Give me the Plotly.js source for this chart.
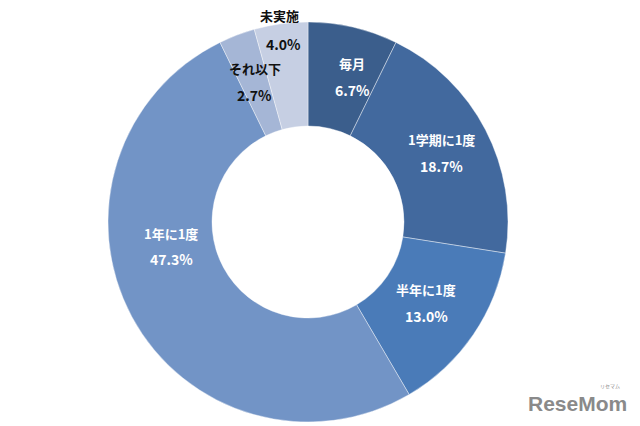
<!DOCTYPE html>
<html><head><meta charset="utf-8">
<script src="https://cdn.plot.ly/plotly-3.0.1.min.js"></script>
<style>html,body{margin:0;padding:0;background:#fff}#chart{width:640px;height:426px}</style>
</head><body><div id="chart"></div>
<script>
const categories = ["毎月", "1学期に1度", "半年に1度", "1年に1度", "それ以下", "未実施"];
const values = [6.7, 18.7, 13.0, 47.3, 2.7, 4.0];
const valueLabels = ["6.7%", "18.7%", "13.0%", "47.3%", "2.7%", "4.0%"];

const colors = ["#3B5E8C", "#42699E", "#4A7BB8", "#7294C6", "#A5B6D6", "#C6CFE3"];
const textColors = ["#fff", "#fff", "#fff", "#fff", "#111", "#111"];

const W = 640, H = 426, M = {l: 0, r: 0, t: 22, b: 4};
const cx = 308, cy = 222, R = 200;
const pw = W - M.l - M.r, ph = H - M.t - M.b;

// label placement (layout only): angle/radius tweaks per slice index
const labelTweak = {0: {angle: 17, r: 152}, 2: {r: 143}, 3: {angle: 260, r: 139}, 5: {nameR: 208, valR: 180}};

const total = values.reduce((a, b) => a + b, 0);
const annotations = [];
const toPaper = (px, py) => ({x: (px - M.l) / pw, y: 1 - (py - M.t) / ph});
let cum = 0;
values.forEach((v, i) => {
  let mid = (cum + v / 2) / total * 360;
  cum += v;
  const t = labelTweak[i] || {};
  const ang = (t.angle !== undefined ? t.angle : mid) * Math.PI / 180;
  let namePt, valPt;
  if (t.nameR) {
    namePt = [cx + t.nameR * Math.sin(ang), cy - t.nameR * Math.cos(ang)];
    valPt = [cx + t.valR * Math.sin(ang), cy - t.valR * Math.cos(ang)];
  } else {
    const r = t.r || 150;
    const px = cx + r * Math.sin(ang), py = cy - r * Math.cos(ang);
    namePt = [px, py - 13];
    valPt = [px, py + 13];
  }
  const f = {family: "'Noto Sans CJK JP', 'Noto Sans', sans-serif", size: 13, color: (t.nameR ? "#111" : textColors[i])};
  const a = toPaper(namePt[0], namePt[1]);
  annotations.push({x: a.x, y: a.y, xref: "paper", yref: "paper", text: "<b>" + categories[i] + "</b>", showarrow: false, font: f, xanchor: "center", yanchor: "middle"});
  const b = toPaper(valPt[0], valPt[1]);
  annotations.push({x: b.x, y: b.y, xref: "paper", yref: "paper", text: "<b>" + valueLabels[i] + "</b>", showarrow: false, font: Object.assign({}, f, {color: textColors[i], size: 14}), xanchor: "center", yanchor: "middle"});
});

// watermark
const wm = toPaper(577, 403);
annotations.push({x: wm.x, y: wm.y, xref: "paper", yref: "paper", text: "<b>ReseMom</b>", showarrow: false,
  font: {family: "'Liberation Sans', Arial, sans-serif", size: 21, color: "#8a8a8a"}, xanchor: "center", yanchor: "middle"});
const wm2 = toPaper(610, 386);
annotations.push({x: wm2.x, y: wm2.y, xref: "paper", yref: "paper", text: "リセマム", showarrow: false,
  font: {family: "'Noto Sans CJK JP', sans-serif", size: 5, color: "#8a8a8a"}, xanchor: "center", yanchor: "middle"});

const trace = {
  type: "pie",
  labels: categories,
  values: values,
  hole: 0.48,
  sort: false,
  direction: "clockwise",
  rotation: 0,
  textinfo: "none",
  hoverinfo: "label+percent",
  marker: {colors: colors, line: {color: "rgba(255,255,255,0.5)", width: 0.8}},
  domain: {x: [(cx - R - M.l) / pw, (cx + R - M.l) / pw], y: [0, 1]}
};

Plotly.newPlot("chart", [trace], {
  width: W, height: H,
  margin: M,
  showlegend: false,
  paper_bgcolor: "#fff",
  annotations: annotations
}, {displayModeBar: false, staticPlot: true});
</script></body></html>
